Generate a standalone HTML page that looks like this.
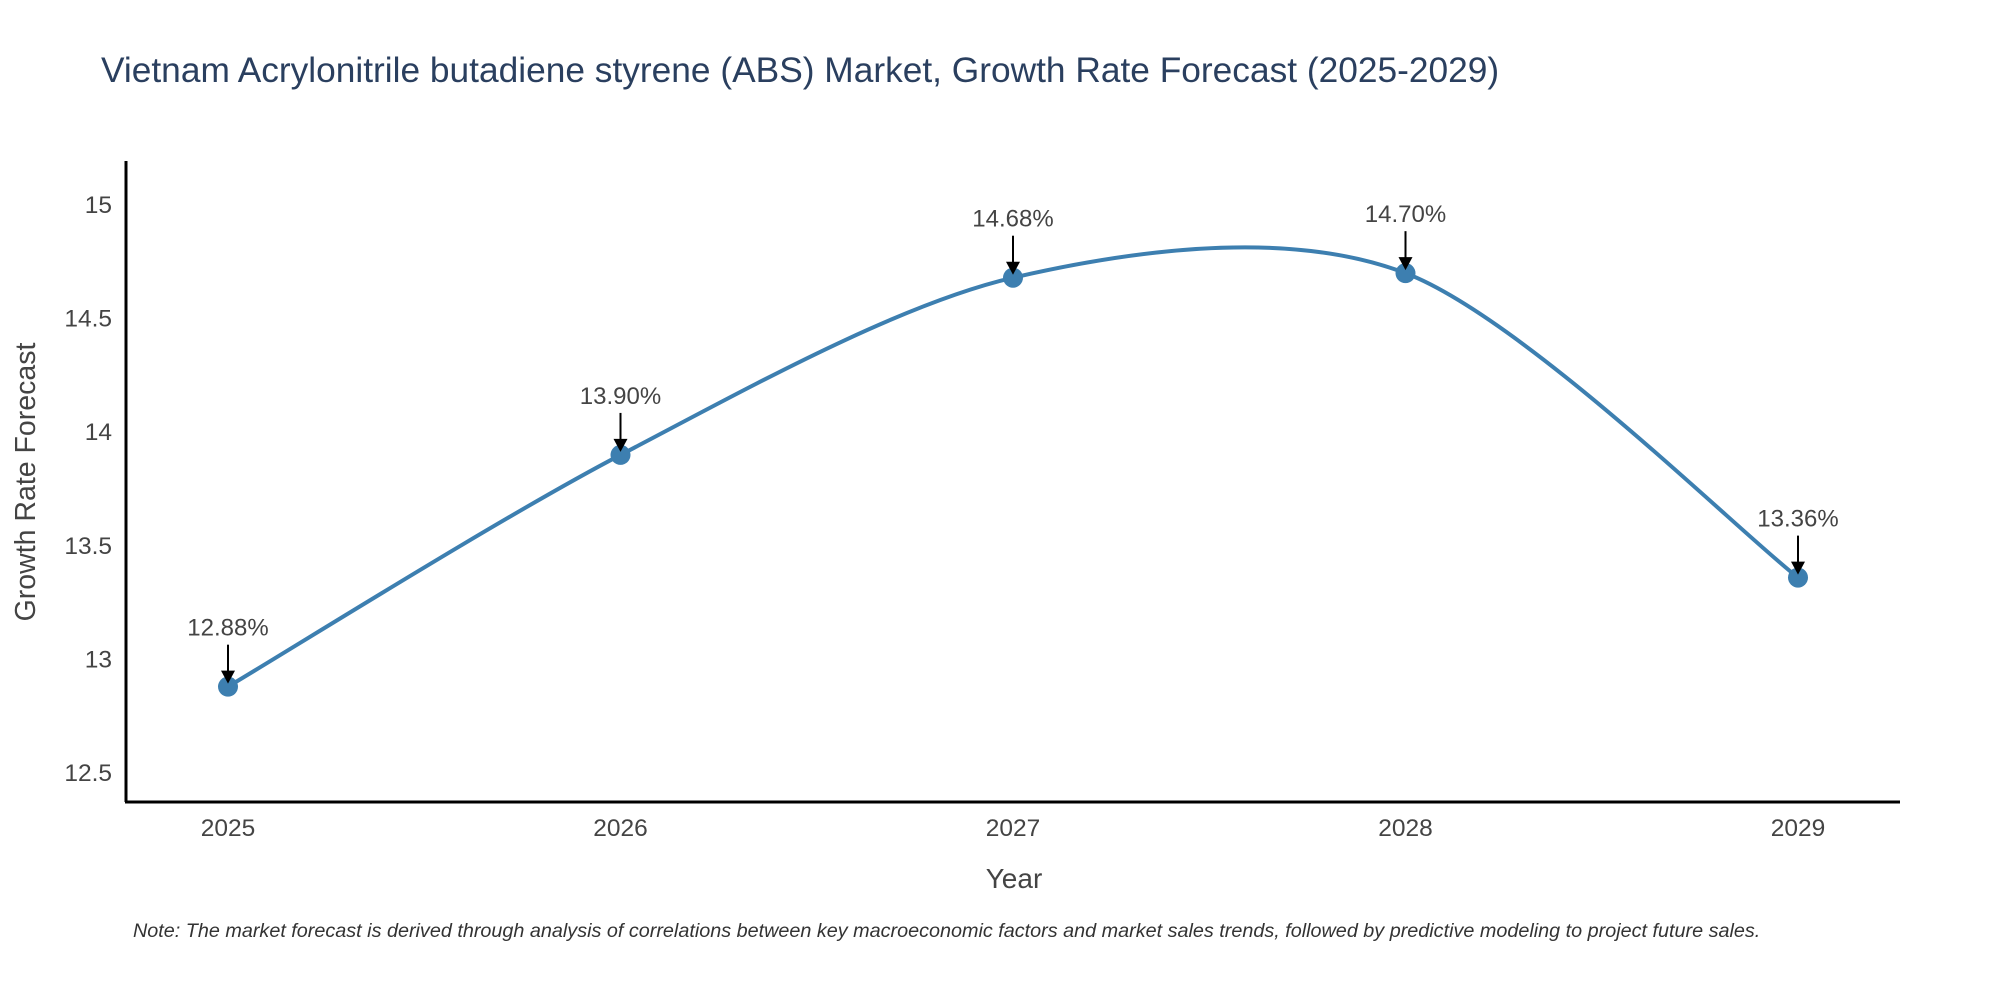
<!DOCTYPE html>
<html><head><meta charset="utf-8"><style>
html,body{margin:0;padding:0;background:#fff;}
svg{display:block;font-family:"Liberation Sans",sans-serif;}
</style></head><body>
<svg id="chart" width="2000" height="1000" viewBox="0 0 2000 1000">
<text x="101" y="82" font-size="35.3" fill="#2a3f5f">Vietnam Acrylonitrile butadiene styrene (ABS) Market, Growth Rate Forecast (2025-2029)</text>
<g id="yticks"></g>
<g id="xticks"></g>
<line x1="126" y1="161" x2="126" y2="802" stroke="#000" stroke-width="3"/>
<line x1="125" y1="802" x2="1900" y2="802" stroke="#000" stroke-width="3"/>
<path id="line" fill="none" stroke="#3d7fb0" stroke-width="4"/>
<g id="points"></g>
<g id="annots"></g>
<text x="1014" y="888" font-size="28" fill="#444" text-anchor="middle">Year</text>
<text x="0" y="0" font-size="28.5" fill="#444" text-anchor="middle" transform="translate(35,482) rotate(-90)">Growth Rate Forecast</text>
<text x="133" y="937" font-size="19.8" font-style="italic" fill="#333">Note: The market forecast is derived through analysis of correlations between key macroeconomic factors and market sales trends, followed by predictive modeling to project future sales.</text>
</svg>
<script>
const years = [2025, 2026, 2027, 2028, 2029];
const values = [12.88, 13.90, 14.68, 14.70, 13.36];
const valueLabels = ["12.88%", "13.90%", "14.68%", "14.70%", "13.36%"];
const yTicks = [12.5, 13, 13.5, 14, 14.5, 15];

const NS = "http://www.w3.org/2000/svg";
function xScale(v){ return 228 + (v - 2025) * 392.5; }
function yScale(v){ return 205 + (15 - v) * 227.2; }
function mk(tag, attrs, parent){
  const e = document.createElementNS(NS, tag);
  for (const k in attrs) e.setAttribute(k, attrs[k]);
  parent.appendChild(e); return e;
}
const yt = document.getElementById('yticks');
yTicks.forEach(t => {
  const e = mk('text', {x: 112, y: yScale(t) + 8, 'font-size': 24.5, fill: '#444', 'text-anchor': 'end'}, yt);
  
  
  e.textContent = String(t);
});
const xt = document.getElementById('xticks');
years.forEach(y => {
  const e = mk('text', {x: xScale(y), y: 836, 'font-size': 24.5, fill: '#444', 'text-anchor': 'middle'}, xt);
  
  
  e.textContent = String(y);
});
const pts = years.map((y, i) => [xScale(y), yScale(values[i])]);
let d = `M${pts[0][0]},${pts[0][1]}`;
const s = 0.15;
for (let i = 0; i < pts.length - 1; i++) {
  const p0 = pts[Math.max(0, i - 1)], p1 = pts[i], p2 = pts[i + 1], p3 = pts[Math.min(pts.length - 1, i + 2)];
  const c1 = [p1[0] + (p2[0] - p0[0]) * s, p1[1] + (p2[1] - p0[1]) * s];
  const c2 = [p2[0] - (p3[0] - p1[0]) * s, p2[1] - (p3[1] - p1[1]) * s];
  d += ` C${c1[0]},${c1[1]} ${c2[0]},${c2[1]} ${p2[0]},${p2[1]}`;
}
document.getElementById('line').setAttribute('d', d);
const pg = document.getElementById('points');
const ag = document.getElementById('annots');
pts.forEach((p, i) => {
  const c = mk('circle', {cx: p[0], cy: p[1], r: 10, fill: '#3d7fb0'}, pg);
  
  
  const l = mk('line', {x1: p[0], y1: p[1] - 42, x2: p[0], y2: p[1] - 14, stroke: '#000', 'stroke-width': 2}, ag);
  
  
  const a = mk('path', {d: `M${p[0]-7},${p[1]-16} L${p[0]+7},${p[1]-16} L${p[0]},${p[1]-3} Z`, fill: '#000'}, ag);
  
  
  const t = mk('text', {x: p[0], y: p[1] - 51, 'font-size': 24, fill: '#444', 'text-anchor': 'middle'}, ag);
  
  
  t.textContent = valueLabels[i];
});
</script>
</body></html>
